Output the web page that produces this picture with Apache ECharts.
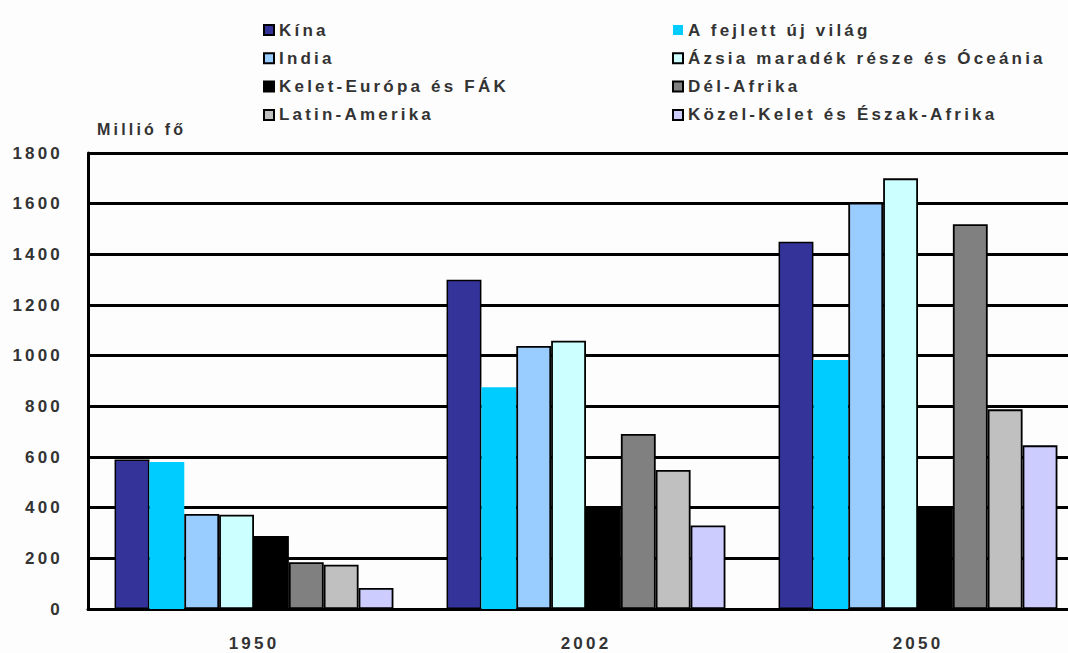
<!DOCTYPE html>
<html>
<head>
<meta charset="utf-8">
<script src="https://cdn.jsdelivr.net/npm/echarts@6/dist/echarts.min.js"></script>
<style>
  html, body { margin: 0; padding: 0; background: #fdfdfd; overflow: hidden; }
  #wrap { width: 1068px; height: 653px; overflow: hidden; }
  #chart { width: 1100px; height: 653px; }
  #chart svg text { letter-spacing: 3.2px; }
</style>
</head>
<body>
<div id="wrap"><div id="chart"></div></div>
<script>
const categories = ['1950', '2002', '2050'];
const seriesNames = ['Kína', 'A fejlett új világ', 'India', 'Ázsia maradék része és Óceánia',
                     'Kelet-Európa és FÁK', 'Dél-Afrika', 'Latin-Amerika', 'Közel-Kelet és Észak-Afrika'];
const kina = [590, 1300, 1450];
const fejlett = [580, 875, 983];
const india = [375, 1038, 1604];
const azsia = [372, 1059, 1700];
const keletEuropa = [288, 407, 404];
const delAfrika = [185, 691, 1519];
const latinAmerika = [175, 549, 788];
const kozelKelet = [83, 330, 646];
const yTicks = { min: 0, max: 1800, interval: 200 };
const yTitle = 'Millió fő';

const values = [kina, fejlett, india, azsia, keletEuropa, delAfrika, latinAmerika, kozelKelet];
const colors = ['#333399', '#00CCFF', '#99CCFF', '#CCFFFF', '#000000', '#808080', '#C0C0C0', '#CCCCFF'];
const borders = [1.5, 0, 1.8, 1.8, 1.5, 1.8, 1.8, 1.8];

const chart = echarts.init(document.getElementById('chart'), null, { renderer: 'svg' });
const font = '"Liberation Sans", Arial, sans-serif';
const textColor = '#333333';

const legendCommon = {
  orient: 'vertical',
  top: 20,
  padding: 0,
  itemWidth: 10,
  itemHeight: 10,
  itemGap: 8.3,
  icon: 'rect',
  textStyle: { fontFamily: font, fontSize: 17, fontWeight: 'bold', color: textColor, lineHeight: 20 }
};

chart.setOption({
  backgroundColor: '#fdfdfd',
  animation: false,
  legend: [
    Object.assign({ left: 263, data: [seriesNames[0], seriesNames[2], seriesNames[4], seriesNames[6]] }, legendCommon),
    Object.assign({ left: 672, data: [seriesNames[1], seriesNames[3], seriesNames[5], seriesNames[7]] }, legendCommon)
  ],
  grid: { left: 88, right: 16, top: 153, bottom: 44, containLabel: false },
  xAxis: {
    type: 'category',
    data: categories,
    axisLine: { lineStyle: { color: '#000', width: 3 } },
    axisTick: { show: false },
    axisLabel: { margin: 26, fontFamily: font, fontSize: 17, fontWeight: 'bold', color: textColor }
  },
  yAxis: {
    type: 'value',
    min: yTicks.min,
    max: yTicks.max,
    interval: yTicks.interval,
    name: yTitle,
    nameLocation: 'end',
    nameGap: 16,
    nameTextStyle: { align: 'left', padding: [0, 0, 0, 9], fontFamily: font, fontSize: 16, fontWeight: 'bold', color: textColor },
    axisLine: { show: true, lineStyle: { color: '#000', width: 3 } },
    axisTick: { show: false },
    axisLabel: { margin: 25, formatter: v => String(v), fontFamily: font, fontSize: 17, fontWeight: 'bold', color: textColor },
    splitLine: { show: true, lineStyle: { color: '#000', width: 3 } }
  },
  series: seriesNames.map((name, i) => ({
    name: name,
    type: 'bar',
    data: values[i],
    barGap: '0%',
    barCategoryGap: '16%',
    itemStyle: { color: colors[i], borderColor: '#000', borderWidth: borders[i] }
  }))
});
</script>
</body>
</html>
